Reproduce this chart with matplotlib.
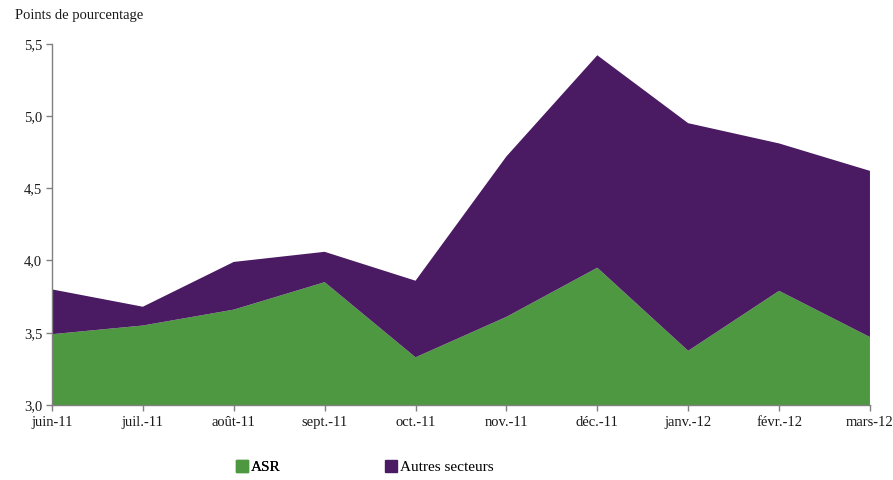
import matplotlib
matplotlib.use("Agg")
import matplotlib.pyplot as plt
import matplotlib.patches as mpatches
import numpy as np

months = ["juin-11", "juil.-11", "août-11", "sept.-11", "oct.-11",
          "nov.-11", "déc.-11", "janv.-12", "févr.-12", "mars-12"]

asr = [3.49, 3.55, 3.66, 3.85, 3.33, 3.61, 3.95, 3.375, 3.79, 3.47]
# autres secteurs, empilés au-dessus de l'ASR
autres = [0.31, 0.13, 0.33, 0.21, 0.53, 1.11, 1.47, 1.575, 1.02, 1.15]

green = "#4F9842"
purple = "#4A1A62"
grey = "#808080"

plt.rcParams["font.family"] = ["Liberation Serif", "DejaVu Serif"]

fig = plt.figure(figsize=(8.93, 4.80), dpi=100)
ax = fig.add_axes([0.0582, 0.15625, 0.916, 0.7527])

x = np.arange(len(months))
ax.stackplot(x, asr, autres, colors=[green, purple], linewidth=0)

ax.set_xlim(0, len(months) - 1)
ax.set_ylim(3.0, 5.5)
ax.set_xticks(x)
ax.set_xticklabels(months)
yt = np.arange(3.0, 5.51, 0.5)
ax.set_yticks(yt)
ax.set_yticklabels([f"{v:.1f}".replace(".", ",") for v in yt])

for side in ["top", "right"]:
    ax.spines[side].set_visible(False)
for side in ["left", "bottom"]:
    ax.spines[side].set_color(grey)
    ax.spines[side].set_linewidth(1.0)
ax.tick_params(axis="both", colors=grey, labelcolor="#1a1a1a",
               labelsize=10.5, length=4, width=1.0, direction="out")
ax.tick_params(axis="x", pad=4)
ax.tick_params(axis="y", pad=3)

fig.text(15 / 893, 1 - 16 / 480, "Points de pourcentage", fontsize=10.5,
         color="#1a1a1a", va="center", ha="left")

h_asr = mpatches.Patch(color=green, label="ASR")
h_aut = mpatches.Patch(color=purple, label="Autres secteurs")
leg1 = fig.legend(handles=[h_asr], loc="center left",
                  bbox_to_anchor=(228 / 893, 1 - 467 / 480), frameon=False,
                  fontsize=11, handlelength=0.8, handleheight=0.8,
                  handletextpad=0.2, borderpad=0)
fig.add_artist(leg1)
fig.legend(handles=[h_aut], loc="center left",
           bbox_to_anchor=(377 / 893, 1 - 467 / 480), frameon=False,
           fontsize=11, handlelength=0.8, handleheight=0.8,
           handletextpad=0.2, borderpad=0)

fig.savefig("out.png", dpi=100)
